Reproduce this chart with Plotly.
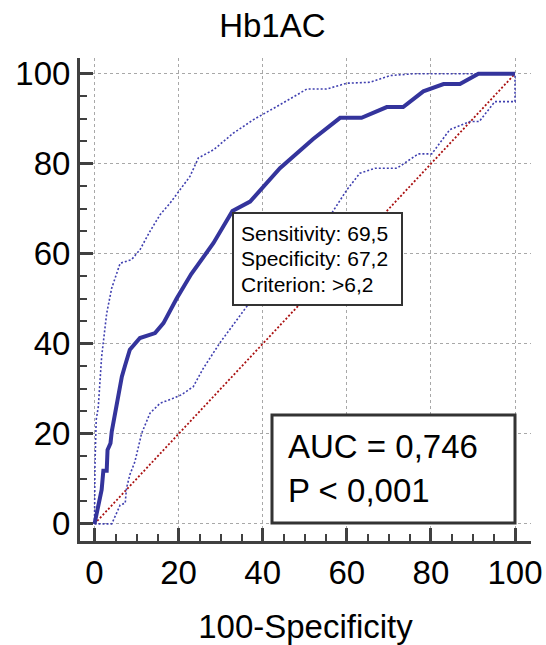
import plotly.graph_objects as go

# ---- data ----
roc_x = [0, 0.5, 0.9, 1.3, 1.7, 2.1, 2.9, 3.1, 3.8, 4.1, 4.9, 5.7, 6.5, 7.3, 8.4, 10.8, 14.4,
         16.4, 19.5, 23.0, 28.3, 32.8, 37.0, 44.1, 52.0, 58.4, 63.5, 69.5, 73.4, 78.2, 83.0,
         86.9, 91.3, 100]
roc_y = [0, 2.4, 4.6, 6.8, 7.6, 11.8, 11.8, 16.4, 17.9, 20.5, 24.6, 29.0, 32.7, 35.3, 38.7,
         41.3, 42.4, 44.6, 50.0, 55.5, 62.4, 69.5, 71.6, 79.0, 85.5, 90.2, 90.2, 92.6, 92.6,
         96.1, 97.7, 97.7, 100, 100]

upper_x = [0, 0.1, 0.4, 0.9, 1.7, 2.9, 4.1, 6.1, 8.8, 10.8, 13.2, 15.6, 18.0, 20.3, 22.7,
           24.7, 28.3, 33.0, 37.8, 43.3, 50.5, 55.2, 60.0, 65.5, 70.3, 75.8, 100]
upper_y = [0, 12.7, 23.1, 26.0, 37.2, 46.8, 52.4, 57.9, 58.7, 60.9, 65.0, 68.7, 71.3, 74.2,
           77.2, 81.3, 83.1, 86.8, 89.8, 92.7, 96.6, 96.6, 97.9, 98.1, 99.6, 100, 100]

lower_x = [0, 4.1, 6.1, 7.3, 7.6, 8.4, 9.6, 11.2, 13.2, 15.6, 18.7, 20.7, 23.5, 25.9, 29.8,
           33.0, 36.2, 46.0, 56.4, 60.0, 63.1, 66.7, 71.9, 77.0, 80.2, 84.5, 89.3, 91.5,
           95.2, 100, 100]
lower_y = [0, 0, 4.2, 4.6, 7.9, 10.9, 13.8, 20.1, 24.6, 26.8, 27.9, 28.7, 30.5, 34.6, 40.2,
           44.2, 48.3, 58.5, 69.0, 74.2, 77.9, 79.0, 79.0, 82.2, 82.2, 87.6, 89.4, 89.4,
           93.8, 93.8, 100]

diag_x = [0, 100]
diag_y = [0, 100]

cut_lines = ["Sensitivity: 69,5", "Specificity: 67,2", "Criterion: >6,2"]
auc_lines = ["AUC = 0,746", "P < 0,001"]

FONT = "Arial, Liberation Sans, sans-serif"
W, H = 546, 645
L, R, T, B = 80, 15, 58, 104
pw, ph = W - L - R, H - T - B


def px(x):
    return (x - L) / pw


def py(y):
    return (H - B - y) / ph


fig = go.Figure()
fig.add_trace(go.Scatter(x=diag_x, y=diag_y, mode="lines",
                         line=dict(color="#aa1111", width=1.8, dash="2px,2px")))
fig.add_trace(go.Scatter(x=upper_x, y=upper_y, mode="lines",
                         line=dict(color="#4040b0", width=1.6, dash="2px,2px")))
fig.add_trace(go.Scatter(x=lower_x, y=lower_y, mode="lines",
                         line=dict(color="#4040b0", width=1.6, dash="2px,2px")))
fig.add_trace(go.Scatter(x=roc_x, y=roc_y, mode="lines",
                         line=dict(color="#34349c", width=4)))

axis_common = dict(
    showline=True, linecolor="#404040", linewidth=3,
    ticks="inside", ticklen=13, tickwidth=3, tickcolor="#404040",
    tick0=0, dtick=20, automargin=False,
    showgrid=True, gridcolor="#a8a8a8", gridwidth=1, griddash="dot",
    zeroline=False, mirror=False,
    tickfont=dict(family=FONT, size=33, color="#000"),
    minor=dict(dtick=5, tick0=0, ticks="inside", ticklen=7, tickwidth=2,
               tickcolor="#404040", showgrid=False),
)

fig.update_xaxes(range=[-3.45, 103.8], **axis_common,
                 title=dict(text="100-Specificity", font=dict(family=FONT, size=33, color="#000"),
                            standoff=26))
fig.update_yaxes(range=[-3.8, 103.5], **axis_common)

shapes = [
    dict(type="rect", xref="paper", yref="paper", x0=px(233), x1=px(402), y0=py(305), y1=py(213),
         line=dict(color="#333", width=2), fillcolor="white", layer="above"),
    dict(type="rect", xref="paper", yref="paper", x0=px(272), x1=px(515), y0=py(523), y1=py(415),
         line=dict(color="#333", width=3), fillcolor="white", layer="above"),
]

annotations = []
for i, t in enumerate(cut_lines):
    annotations.append(dict(text=t, xref="paper", yref="paper", x=px(239), y=py(233 + 25.5 * i),
                            xanchor="left", yanchor="middle", showarrow=False,
                            font=dict(family=FONT, size=21, color="#000")))
for i, t in enumerate(auc_lines):
    annotations.append(dict(text=t, xref="paper", yref="paper", x=px(286), y=py(446 + 44 * i),
                            xanchor="left", yanchor="middle", showarrow=False,
                            font=dict(family=FONT, size=33, color="#000")))

fig.update_layout(
    width=W, height=H,
    margin=dict(l=L, r=R, t=T, b=B, autoexpand=False),
    paper_bgcolor="white", plot_bgcolor="white",
    showlegend=False,
    title=dict(text="Hb1AC", x=px(305), xanchor="center", y=1 - 25 / H, yanchor="middle",
               font=dict(family=FONT, size=33, color="#000")),
    shapes=shapes, annotations=annotations,
)

fig.write_html("out.html")
